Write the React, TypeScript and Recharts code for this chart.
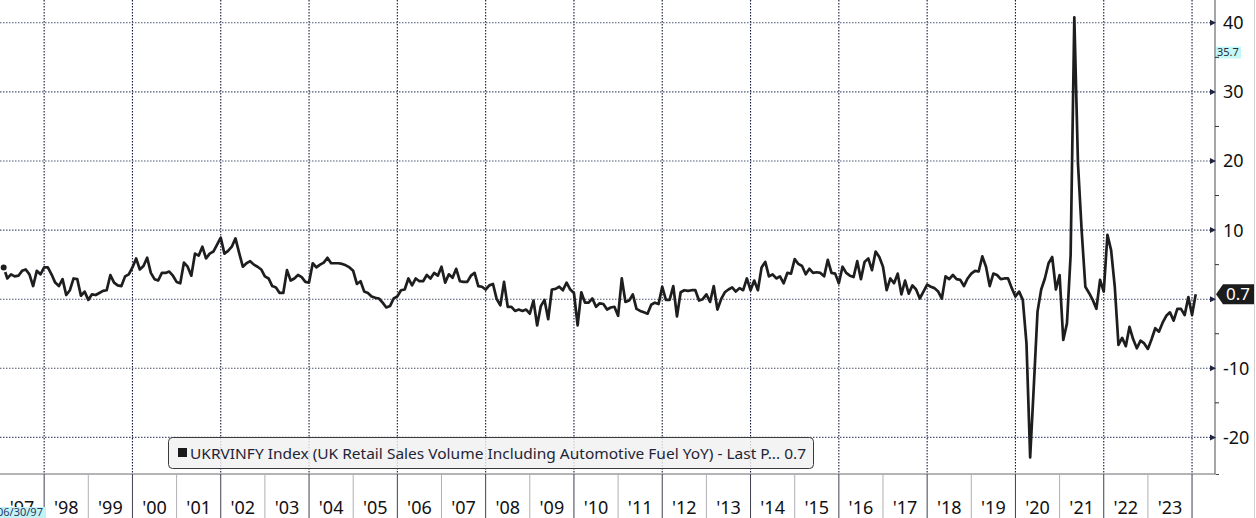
import React from 'react';
import { LineChart, Line, XAxis, YAxis, CartesianGrid, ReferenceLine } from 'recharts';

// UK retail sales volume incl. automotive fuel, YoY %, monthly
// Jan 1997 – Jun 2006
const retail1997to2006 = [
  4.6, 3.0, 3.6, 3.3, 3.4, 4.1, 4.3, 3.6, 1.9, 4.1, 3.6, 4.6,
  4.6, 3.6, 2.4, 1.9, 2.9, 0.6, 1.3, 3.0, 2.9, 0.5, 1.1, -0.1,
  0.7, 0.6, 0.9, 1.2, 1.3, 3.5, 2.4, 2.0, 1.9, 3.3, 3.6, 4.6,
  5.9, 4.3, 4.8, 6.0, 3.8, 2.9, 2.7, 3.8, 3.8, 4.0, 3.4, 2.5,
  2.3, 5.3, 4.7, 3.4, 6.6, 6.3, 7.6, 5.9, 6.6, 6.9, 7.9, 8.9,
  6.6, 7.0, 7.6, 8.8, 6.7, 4.7, 5.2, 5.5, 5.0, 4.7, 4.3, 3.3,
  3.0, 1.9, 1.7, 0.9, 0.9, 4.2, 2.7, 3.0, 3.5, 3.2, 2.5, 2.4,
  5.2, 4.6, 5.0, 5.3, 6.0, 5.2, 5.2, 5.2, 5.1, 4.9, 4.6, 4.1,
  2.2, 2.6, 1.1, 0.9, 0.4, 0.2, 0.1, -0.5, -1.2, -1.0, 0.1, 0.4,
  1.3, 1.4, 3.0, 2.0, 3.0, 2.6,
];
// Jul 2006 – Jul 2015
const retail2006to2015 = [
  2.6, 3.5, 3.0, 3.8, 3.4, 4.7, 2.4, 3.6, 3.1, 4.4, 2.6, 2.5,
  2.5, 3.4, 3.8, 1.9, 1.8, 1.4, 2.0, 2.2, 0.0, -0.9, 2.5, -1.1,
  -1.1, -1.7, -1.5, -1.7, -1.5, -2.1, -0.2, -3.8, -1.0, -0.1, -2.9, 1.4,
  1.5, 1.8, 1.3, 2.4, 1.4, 0.9, -3.8, 1.0, -0.5, -0.5, 0.1, -1.1,
  -0.6, -0.7, -1.5, -1.2, -1.1, -2.4, 3.0, -0.4, -0.2, 0.7, -1.4, -1.7,
  -1.9, -2.1, -0.8, -0.5, -0.7, 1.8, -0.1, -0.1, 1.9, -2.5, 1.0, 1.3,
  1.2, 1.3, 1.3, -0.2, 0.0, 0.7, -0.4, 1.9, -1.5, 0.0, 1.0, 1.4,
  1.7, 1.1, 1.6, 1.3, 3.0, 1.3, 2.7, 1.3, 4.6, 5.4, 3.3, 3.6,
  3.0, 3.3, 2.3, 3.8, 3.7, 5.8, 5.1, 4.8, 3.6, 4.4, 3.8, 3.9,
  3.8,
];
// Aug 2015 – Jan 2024
const retail2015to2024 = [
  3.3, 5.7, 3.8, 3.7, 2.3, 4.7, 3.8, 3.4, 3.2, 5.5, 2.9, 5.4,
  5.9, 4.2, 6.9, 6.1, 4.7, 1.3, 3.0, 2.3, 3.7, 0.7, 2.7, 0.8,
  2.0, 1.4, 0.1, 1.1, 2.1, 1.8, 1.6, 1.1, 0.1, 3.3, 2.9, 3.5,
  2.9, 2.8, 1.9, 3.0, 3.7, 4.1, 4.0, 6.2, 4.7, 1.9, 3.7, 3.5,
  2.9, 3.0, 3.0, 1.6, 0.4, 1.1, -0.1, -6.4, -22.9, -12.5, -1.8, 1.4,
  3.0, 5.2, 6.1, 1.4, 3.5, -5.9, -3.5, 6.4, 40.8, 19.6, 9.9, 1.8,
  0.9, -0.1, -1.4, 2.8, 1.1, 9.3, 7.1, 1.8, -6.6, -5.6, -6.8, -4.0,
  -5.8, -7.1, -6.0, -6.4, -7.2, -5.8, -4.2, -4.7, -3.4, -2.4, -1.9, -3.1,
  -1.4, -1.4, -2.3, 0.3, -2.3, 0.7,
];

const FIRST_YEAR = 1997;
const LAST_TICK_YEAR = 2024;
const X_DOMAIN: [number, number] = [1997, 2024.52];
const Y_DOMAIN: [number, number] = [-25.3, 43.3];
const yTicks = [-20, -15, -10, -5, 0, 5, 10, 15, 20, 25, 30, 35, 40];
const yGrid = [-20, -10, 0, 10, 20, 30, 40];
const xGrid = [1998, 2000, 2002, 2004, 2006, 2008, 2010, 2012, 2014, 2016, 2018, 2020, 2022, 2024];
const lastValue = 0.7;
const markerValue = 35.7;
const legendText = 'UKRVINFY Index (UK Retail Sales Volume Including Automotive Fuel YoY) - Last P... 0.7';
const startDateText = '06/30/97';

const series = [...retail1997to2006, ...retail2006to2015, ...retail2015to2024];
const data = series.map((v, i) => ({ t: FIRST_YEAR + (i + 1) / 12, v }));

const xTicks: number[] = [];
for (let y = FIRST_YEAR; y <= LAST_TICK_YEAR; y++) {
  xTicks.push(y);
  if (y < LAST_TICK_YEAR) xTicks.push(y + 0.5);
}

const FONT = '"Noto Sans", "DejaVu Sans", sans-serif';

const XTick = (props: any) => {
  const { x, y, payload } = props;
  const val = payload.value as number;
  if (Number.isInteger(val)) {
    if (val === FIRST_YEAR) return <g />;
    return (
      <line x1={x} x2={x} y1={y} y2={y + 44} stroke={val % 2 === 0 ? '#3e4050' : '#b0b0b6'} strokeWidth={1} />
    );
  }
  const yr = Math.floor(val);
  return (
    <text x={x} y={y + 40} textAnchor="middle" fontSize={18} fill="#111" fontFamily={FONT}>
      {"'" + String(yr).slice(2)}
    </text>
  );
};

const YTick = (props: any) => {
  const { x, y, payload } = props;
  const v = payload.value as number;
  if (v % 10 !== 0) {
    return <line x1={x} x2={x + 4} y1={y} y2={y} stroke="#333" strokeWidth={1} />;
  }
  return (
    <g>
      <polygon points={`${x - 5},${y - 3} ${x + 1},${y} ${x - 5},${y + 3}`} fill="#1f2442" />
      {v !== 0 && (
        <text x={x + 8} y={y} dy="0.36em" fontSize={18} fill="#111" fontFamily={FONT}>
          {v}
        </text>
      )}
    </g>
  );
};

const LastFlag = (props: any) => {
  const { viewBox } = props;
  const x = viewBox.x + viewBox.width;
  const y = viewBox.y;
  return (
    <g>
      <path
        d={`M${x + 1},${y} L${x + 8},${y - 10} L${x + 39},${y - 10} L${x + 39},${y + 10} L${x + 8},${y + 10} Z`}
        fill="#1c1c1c"
      />
      <text x={x + 23} y={y} dy="0.36em" textAnchor="middle" fill="#fff" fontSize={17} fontFamily={FONT}>
        {lastValue}
      </text>
    </g>
  );
};

const MarkerTag = (props: any) => {
  const { viewBox } = props;
  const x = viewBox.x + viewBox.width;
  const y = viewBox.y;
  return (
    <g>
      <rect x={x + 1} y={y - 6} width={25} height={12} fill="#c4f7f7" />
      <text x={x + 2} y={y} dy="0.36em" fill="#2a2a3a" fontSize={11} fontFamily={FONT}>
        {markerValue}
      </text>
    </g>
  );
};

export default function App() {
  return (
    <div style={{ position: 'absolute', left: 0, top: 0, width: 1256, height: 518, background: '#fff', overflow: 'hidden' }}>
      <LineChart width={1256} height={518} data={data} margin={{ top: 0, right: 0, bottom: 0, left: 0 }}>
        <CartesianGrid
          horizontal={false}
          vertical
          verticalValues={xGrid}
          stroke="#141a3c"
          strokeWidth={1.1}
          strokeDasharray="1.5 1.5"
        />
        <CartesianGrid
          horizontal
          vertical={false}
          horizontalValues={yGrid}
          stroke="#4e5676"
          strokeWidth={1.1}
          strokeDasharray="1.5 1.5"
        />
        <XAxis
          dataKey="t"
          type="number"
          domain={X_DOMAIN}
          ticks={xTicks}
          interval={0}
          tick={<XTick />}
          tickLine={false}
          tickSize={0}
          tickMargin={0}
          height={44}
          axisLine={{ stroke: '#6a6a70' }}
          allowDataOverflow
        />
        <YAxis
          orientation="right"
          type="number"
          domain={Y_DOMAIN}
          ticks={yTicks}
          interval={0}
          tick={<YTick />}
          tickLine={false}
          tickSize={0}
          tickMargin={0}
          width={41}
          axisLine={{ stroke: '#4a4a55' }}
          allowDataOverflow
        />
        <Line
          type="linear"
          dataKey="v"
          stroke="#1e1e1e"
          strokeWidth={2.7}
          dot={false}
          isAnimationActive={false}
          strokeLinejoin="round"
        />
        <ReferenceLine y={markerValue} stroke="none" label={MarkerTag} />
        <ReferenceLine y={lastValue} stroke="none" label={LastFlag} />
      </LineChart>
      <svg width={1256} height={518} style={{ position: 'absolute', left: 0, top: 0, pointerEvents: 'none' }}>
        <rect x={168.5} y={437.5} width={645} height={31} rx={4} fill="#f0f0f0" fillOpacity={0.82} stroke="#3a3a3a" />
        <rect x={178} y={448} width={9} height={9} fill="#1a1a1a" />
        <text x={190} y={459} fontSize={15} fill="#1f2436" fontFamily={FONT} textLength={616} lengthAdjust="spacingAndGlyphs">
          {legendText}
        </text>
        <rect x={0} y={507} width={46} height={11} fill="#c4f3f6" />
        <text x={-3} y={516} fontSize={11} fill="#2b3a66" fontFamily={FONT}>
          {startDateText}
        </text>
        <line x1={1215.5} x2={1219} y1={474.5} y2={474.5} stroke="#4a4a55" />
        <line x1={1254.5} x2={1254.5} y1={0} y2={518} stroke="#d0d0d0" />
      </svg>
    </div>
  );
}
